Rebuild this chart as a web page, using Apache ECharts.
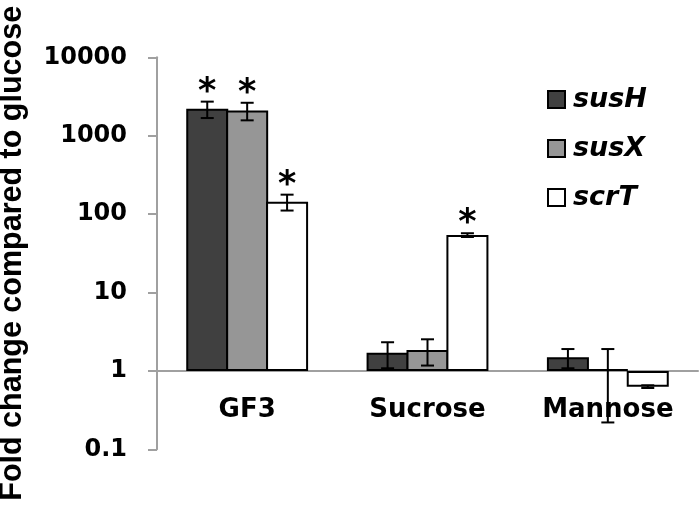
<!DOCTYPE html>
<html>
<head>
<meta charset="utf-8">
<script src="https://cdn.jsdelivr.net/npm/echarts@6/dist/echarts.min.js"></script>
<style>html,body{margin:0;padding:0;background:#fff}#c{width:700px;height:513px}</style>
</head>
<body>
<div id="c"></div>
<script>
const categories = ['GF3', 'Sucrose', 'Mannose'];
const seriesNames = ['susH', 'susX', 'scrT'];
const susH = [2200, 1.70, 1.49];
const susHErr = [520, 0.62, 0.41];
const susX = [2100, 1.85, 1.06];
const susXErr = [530, 0.68, 0.84];
const scrT = [144, 54, 0.63];
const scrTErr = [33, 3, 0.025];
const susHSig = [1, 0, 0];
const susXSig = [1, 0, 0];
const scrTSig = [1, 1, 0];
const yTicks = [0.1, 1, 10, 100, 1000, 10000];

const values = [susH, susX, scrT];
const errs = [susHErr, susXErr, scrTErr];
const sigs = [susHSig, susXSig, scrTSig];
const fills = ['#404040', '#969696', '#ffffff'];
const axisGray = '#a0a0a0';

const chart = echarts.init(document.getElementById('c'));

const barSeries = seriesNames.map((name, i) => ({
  name: name,
  type: 'bar',
  data: values[i],
  barGap: '-5%',
  barWidth: '23.3%',
  itemStyle: { color: fills[i], borderColor: '#000', borderWidth: 2 },
  z: 2
}));

const errSeries = seriesNames.map((name, i) => ({
  type: 'custom',
  coordinateSystem: 'cartesian2d',
  silent: true,
  z: 5,
  data: values[i].map((v, k) => [k, v, errs[i][k], sigs[i][k]]),
  encode: { x: 0, y: 1 },
  renderItem: function (params, api) {
    const ci = api.value(0), v = api.value(1), e = api.value(2), s = api.value(3);
    const catW = api.size([1, 0])[0];
    const bw = catW * 0.233 * 0.95;
    const top = api.coord([ci, v + e]);
    const bot = api.coord([ci, v - e]);
    const x = top[0] + (i - 1) * bw;
    const cap = 6.5;
    const children = [
      { type: 'line', shape: { x1: x, y1: top[1], x2: x, y2: bot[1] }, style: { stroke: '#000', lineWidth: 2 } },
      { type: 'line', shape: { x1: x - cap, y1: top[1], x2: x + cap, y2: top[1] }, style: { stroke: '#000', lineWidth: 2 } },
      { type: 'line', shape: { x1: x - cap, y1: bot[1], x2: x + cap, y2: bot[1] }, style: { stroke: '#000', lineWidth: 2 } }
    ];
    if (s) {
      children.push({
        type: 'text',
        style: {
          text: '*', x: x, y: top[1] - 9,
          fill: '#000', font: 'bold 35px "DejaVu Sans"',
          align: 'center', verticalAlign: 'middle'
        }
      });
    }
    return { type: 'group', children: children };
  }
}));

chart.setOption({
  animation: false,
  backgroundColor: '#fff',
  grid: { left: 157, right: 2, top: 57.3, bottom: 63.7, containLabel: false, outerBoundsMode: 'none' },
  legend: {
    data: seriesNames,
    orient: 'vertical',
    left: 547,
    top: 86,
    padding: 0,
    itemWidth: 17,
    itemHeight: 17,
    itemGap: 22,
    icon: 'rect',
    textStyle: {
      fontFamily: 'DejaVu Sans', fontWeight: 'bold', fontStyle: 'italic',
      fontSize: 27, color: '#000', padding: [0, 0, 0, 3]
    }
  },
  xAxis: {
    type: 'category',
    data: categories,
    offset: -78.4,
    axisLine: { onZero: false, lineStyle: { color: axisGray, width: 2 } },
    axisTick: { length: 10, lineStyle: { color: axisGray, width: 2 } },
    axisLabel: {
      margin: 26, color: '#000', fontFamily: 'DejaVu Sans',
      fontWeight: 'bold', fontSize: 26
    }
  },
  yAxis: {
    type: 'log',
    logBase: 10,
    min: yTicks[0],
    max: yTicks[yTicks.length - 1],
    splitNumber: 5,
    name: 'Fold change compared to glucose',
    nameLocation: 'middle',
    nameRotate: 90,
    nameGap: 129,
    nameTextStyle: { fontFamily: 'Liberation Sans', fontWeight: 'bold', fontSize: 30.5, color: '#000' },
    axisLine: { show: true, lineStyle: { color: axisGray, width: 2 } },
    axisTick: { show: true, length: 9, lineStyle: { color: axisGray, width: 2 } },
    splitLine: { show: false },
    axisLabel: {
      margin: 30, color: '#000', fontFamily: 'DejaVu Sans',
      fontWeight: 'bold', fontSize: 24,
      formatter: function (v) { return String(+v.toPrecision(6)); }
    }
  },
  series: barSeries.concat(errSeries)
});
</script>
</body>
</html>
